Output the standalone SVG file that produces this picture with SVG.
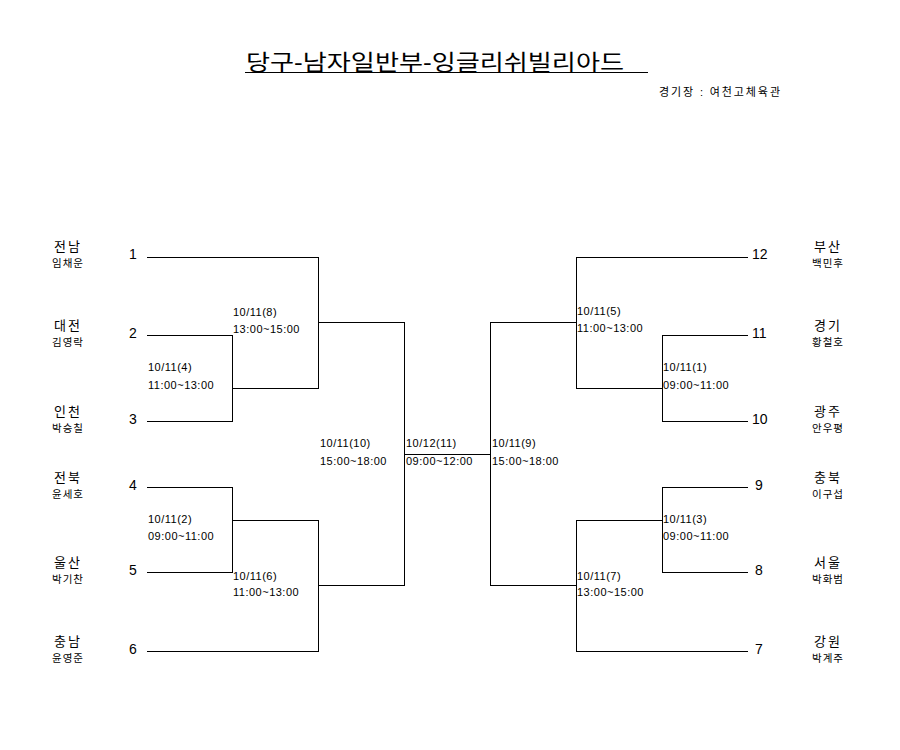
<svg xmlns="http://www.w3.org/2000/svg" width="900" height="750" viewBox="0 0 900 750">
<style>
text{font-family:"Liberation Sans","Noto Sans CJK KR",sans-serif;fill:#000}
.title{font-size:22px}
.venue{font-size:11px}
.region{font-size:13px;text-anchor:middle;letter-spacing:2px}
.player{font-size:10.5px;text-anchor:middle;letter-spacing:1px}
.num{font-size:14px}
.lbl{font-size:11px;letter-spacing:0.5px}
.ln{stroke:#000;stroke-width:1;fill:none;shape-rendering:crispEdges}
</style>
<rect width="900" height="750" fill="#fff"/>
<g id="title">
<text class="title" x="246" y="70" textLength="378" lengthAdjust="spacingAndGlyphs">당구-남자일반부-잉글리쉬빌리아드</text>
<line class="ln" x1="245" y1="72.5" x2="648" y2="72.5"/>
<text class="venue" x="659" y="96" textLength="121">경기장 : 여천고체육관</text>
</g>
<g id="connectors">
<path class="ln" d="M147 257.5H318.5V388.5H232 M147 335.5H232.5V421.5H147 M318 322.5H404"/>
<path class="ln" d="M147 487.5H232.5V572.5H147 M232 520.5H318.5V651.5H147 M318 585.5H404"/>
<path class="ln" d="M404.5 322V586 M404 454.5H490 M490.5 322V586"/>
<path class="ln" d="M490 322.5H576 M748 257.5H576.5V388.5H662 M748 335.5H662.5V421.5H748"/>
<path class="ln" d="M490 585.5H576 M662 520.5H576.5V651.5H748 M748 487.5H662.5V572.5H748"/>
</g>
<g id="team1"><text class="region" x="68" y="251">전남</text><text class="player" x="68" y="267">임채운</text><text class="num" x="129" y="259">1</text></g>
<g id="team2"><text class="region" x="68" y="330">대전</text><text class="player" x="68" y="346">김영락</text><text class="num" x="129" y="338">2</text></g>
<g id="team3"><text class="region" x="68" y="416">인천</text><text class="player" x="68" y="432">박승칠</text><text class="num" x="129" y="424">3</text></g>
<g id="team4"><text class="region" x="68" y="482">전북</text><text class="player" x="68" y="498">윤세호</text><text class="num" x="129" y="490">4</text></g>
<g id="team5"><text class="region" x="68" y="567">울산</text><text class="player" x="68" y="583">박기찬</text><text class="num" x="129" y="575">5</text></g>
<g id="team6"><text class="region" x="68" y="646">충남</text><text class="player" x="68" y="662">윤영준</text><text class="num" x="129" y="654">6</text></g>
<g id="team12"><text class="region" x="828" y="251">부산</text><text class="player" x="828" y="267">백민후</text><text class="num" x="752" y="259">12</text></g>
<g id="team11"><text class="region" x="828" y="330">경기</text><text class="player" x="828" y="346">황철호</text><text class="num" x="752" y="338">11</text></g>
<g id="team10"><text class="region" x="828" y="416">광주</text><text class="player" x="828" y="432">안우평</text><text class="num" x="752" y="424">10</text></g>
<g id="team9"><text class="region" x="828" y="482">충북</text><text class="player" x="828" y="498">이구섭</text><text class="num" x="755" y="490">9</text></g>
<g id="team8"><text class="region" x="828" y="567">서울</text><text class="player" x="828" y="583">박화범</text><text class="num" x="755" y="575">8</text></g>
<g id="team7"><text class="region" x="828" y="646">강원</text><text class="player" x="828" y="662">박계주</text><text class="num" x="755" y="654">7</text></g>
<g id="m8"><text class="lbl" x="233" y="316">10/11(8)</text><text class="lbl" x="233" y="333">13:00~15:00</text></g>
<g id="m4"><text class="lbl" x="148" y="371">10/11(4)</text><text class="lbl" x="148" y="389">11:00~13:00</text></g>
<g id="m2"><text class="lbl" x="148" y="523">10/11(2)</text><text class="lbl" x="148" y="540">09:00~11:00</text></g>
<g id="m6"><text class="lbl" x="233" y="580">10/11(6)</text><text class="lbl" x="233" y="596">11:00~13:00</text></g>
<g id="m10"><text class="lbl" x="320" y="447">10/11(10)</text><text class="lbl" x="320" y="465">15:00~18:00</text></g>
<g id="m11"><text class="lbl" x="406" y="447">10/12(11)</text><text class="lbl" x="406" y="465">09:00~12:00</text></g>
<g id="m9"><text class="lbl" x="492" y="447">10/11(9)</text><text class="lbl" x="492" y="465">15:00~18:00</text></g>
<g id="m5"><text class="lbl" x="577" y="315">10/11(5)</text><text class="lbl" x="577" y="332">11:00~13:00</text></g>
<g id="m1"><text class="lbl" x="663" y="371">10/11(1)</text><text class="lbl" x="663" y="389">09:00~11:00</text></g>
<g id="m3"><text class="lbl" x="663" y="523">10/11(3)</text><text class="lbl" x="663" y="540">09:00~11:00</text></g>
<g id="m7"><text class="lbl" x="577" y="580">10/11(7)</text><text class="lbl" x="577" y="596">13:00~15:00</text></g>
</svg>
